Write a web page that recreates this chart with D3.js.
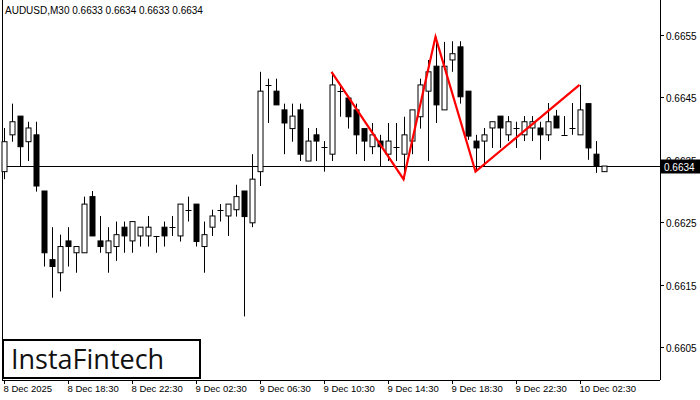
<!DOCTYPE html>
<html><head><meta charset="utf-8">
<script src="https://cdn.jsdelivr.net/npm/d3@7"></script>
<style>body{margin:0;background:#fff}text{font-family:"Liberation Sans",Arial,sans-serif}</style>
</head><body><div id="chart"></div>
<script>
// AUDUSD M30 candles
const opens = [.66331,.66390,.66420,.66379,.66390,.66300,.66190,.66169,.66220,.66201,.66201,.66291,.66220,.66201,.66211,.66242,.66220,.66228,.66228,.66228,.66242,.66242,.66228,.66270,.66279,.66211,.66242,.66270,.66260,.66270,.66300,.66249,.66331,.66470,.66460,.66430,.66400,.66430,.66348,.66390,.66371,.66359,.66460,.66449,.66430,.66400,.66371,.66380,.66359,.66371,.66359,.66380,.66419,.66460,.66500,.66430,.66510,.66531,.66460,.66380,.66380,.66401,.66420,.66390,.66401,.66390,.66401,.66401,.66390,.66420,.66390,.66401,.66390,.66440,.66359,.66331];
const highs = [.66401,.66440,.66420,.66411,.66411,.66300,.66242,.66230,.66242,.66211,.66291,.66300,.66260,.66242,.66251,.66251,.66251,.66242,.66260,.66228,.66251,.66260,.66279,.66291,.66279,.66251,.66270,.66279,.66279,.66310,.66300,.66359,.66491,.66480,.66480,.66440,.66440,.66440,.66401,.66401,.66380,.66491,.66470,.66449,.66440,.66400,.66409,.66390,.66409,.66409,.66419,.66430,.66480,.66510,.66547,.66539,.66540,.66540,.66460,.66390,.66401,.66411,.66420,.66420,.66411,.66420,.66420,.66411,.66441,.66430,.66420,.66441,.66470,.66440,.66380,.66340];
const lows = [.66319,.66379,.66340,.66348,.66299,.66179,.66129,.66139,.66179,.66169,.66201,.66228,.66201,.66169,.66188,.66201,.66201,.66211,.66211,.66201,.66211,.66228,.66219,.66251,.66211,.66169,.66228,.66251,.66228,.66259,.66099,.66242,.66308,.66409,.66438,.66359,.66379,.66348,.66348,.66348,.66331,.66348,.66419,.66400,.66359,.66348,.66359,.66340,.66348,.66348,.66319,.66359,.66400,.66348,.66409,.66430,.66491,.66440,.66382,.66331,.66339,.66369,.66369,.66380,.66369,.66380,.66380,.66350,.66380,.66401,.66390,.66390,.66390,.66350,.66329,.66331];
const closes = [.66379,.66411,.66371,.66401,.66308,.66201,.66179,.66211,.66211,.66211,.66279,.66228,.66211,.66220,.66230,.66228,.66251,.66242,.66242,.66228,.66228,.66242,.66279,.66270,.66219,.66230,.66260,.66270,.66279,.66291,.66259,.66319,.66460,.66470,.66438,.66409,.66420,.66359,.66380,.66380,.66371,.66470,.66460,.66419,.66390,.66380,.66390,.66371,.66380,.66371,.66390,.66430,.66470,.66491,.66438,.66500,.66520,.66451,.66388,.66369,.66390,.66411,.66401,.66411,.66401,.66411,.66411,.66390,.66411,.66401,.66390,.66401,.66430,.66369,.66340,.66340];

// pattern vertices: candle index and which extreme
const patternIdx = [41, 50, 54, 59, 72];
const patternSide = ["high", "low", "high", "low", "high"];

const priceTicks = [0.6655, 0.6645, 0.6635, 0.6625, 0.6615, 0.6605];
const timeLabels = ["8 Dec 2025", "8 Dec 18:30", "8 Dec 22:30", "9 Dec 02:30", "9 Dec 06:30", "9 Dec 10:30", "9 Dec 14:30", "9 Dec 18:30", "9 Dec 22:30", "10 Dec 02:30"];
const labelEvery = 8;
const lastPrice = 0.6634;
const title = "AUDUSD,M30  0.6633 0.6634 0.6633 0.6634";

const W = 700, H = 400, plotR = 660, plotB = 380;
const svg = d3.select("#chart").append("svg").attr("width", W).attr("height", H);

const x = d3.scaleLinear().domain([0, 1]).range([3.5, 11.5]);
const y = d3.scaleLinear().domain([0.6605, 0.6655]).range([347, 35]);
const bw = 5;

// frame
svg.append("line").attr("x1", 2.5).attr("x2", 2.5).attr("y1", 0).attr("y2", plotB).attr("stroke", "#000");
svg.append("line").attr("x1", plotR + .5).attr("x2", plotR + .5).attr("y1", 0).attr("y2", plotB).attr("stroke", "#000");
svg.append("line").attr("x1", 2).attr("x2", plotR).attr("y1", plotB + .5).attr("y2", plotB + .5).attr("stroke", "#000");

// last price line
const yl = Math.round(y(lastPrice)) + .5;
svg.append("line").attr("x1", 2).attr("x2", plotR).attr("y1", yl).attr("y2", yl).attr("stroke", "#000");

// candles
const g = svg.append("g");
opens.forEach((o, i) => {
  const c = closes[i], cx = Math.round(x(i)) + .5;
  g.append("line").attr("x1", cx).attr("x2", cx)
    .attr("y1", y(highs[i])).attr("y2", y(lows[i])).attr("stroke", "#000");
  const top = y(Math.max(o, c)), bot = y(Math.min(o, c));
  if (bot - top < 1) {
    g.append("line").attr("x1", cx - 3).attr("x2", cx + 3)
      .attr("y1", Math.round(top) + .5).attr("y2", Math.round(top) + .5).attr("stroke", "#000");
  } else {
    g.append("rect").attr("x", cx - bw / 2).attr("y", top).attr("width", bw).attr("height", bot - top)
      .attr("fill", c < o ? "#000" : "#fff").attr("stroke", "#000");
  }
});

// red pattern
const pts = patternIdx.map((k, j) => [x(k), y(patternSide[j] === "high" ? highs[k] : lows[k])]);
svg.append("path").attr("d", d3.line()(pts)).attr("fill", "none")
  .attr("stroke", "#f00").attr("stroke-width", 2.2).attr("stroke-linejoin", "miter");

// price axis
priceTicks.forEach(p => {
  const yy = Math.round(y(p)) + .5;
  svg.append("line").attr("x1", plotR).attr("x2", plotR + 4).attr("y1", yy).attr("y2", yy).attr("stroke", "#000");
  svg.append("text").attr("x", 666).attr("y", yy + 4).attr("font-size", 10).text(p.toFixed(4));
});
svg.append("rect").attr("x", plotR + 1).attr("y", yl - 7).attr("width", 40).attr("height", 14).attr("fill", "#000");
svg.append("text").attr("x", 664).attr("y", yl + 4).attr("font-size", 10).attr("fill", "#fff").text(lastPrice.toFixed(4));

// time axis
timeLabels.forEach((t, j) => {
  const xx = Math.round(x(j * labelEvery)) + .5;
  svg.append("line").attr("x1", xx).attr("x2", xx).attr("y1", plotB).attr("y2", plotB + 4).attr("stroke", "#000");
  svg.append("text").attr("x", xx - 1).attr("y", 392).attr("font-size", 9.5).text(t);
});

// title
svg.append("text").attr("x", 5).attr("y", 14).attr("font-size", 10).text(title);

// logo
svg.append("rect").attr("x", 3).attr("y", 340).attr("width", 197).attr("height", 38)
  .attr("fill", "#fff").attr("stroke", "#000").attr("stroke-width", 2);
svg.append("text").attr("x", 11).attr("y", 369).attr("font-size", 27)
  .style("font-family", "'Open Sans', sans-serif").attr("fill", "#111").text("InstaFintech");
</script></body></html>
